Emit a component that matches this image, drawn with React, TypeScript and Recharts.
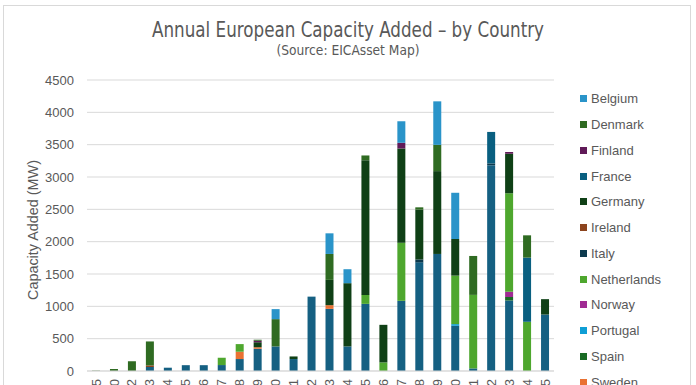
import React from "react";
import { BarChart, Bar, XAxis, YAxis, CartesianGrid } from "recharts";

const years = [
  "1995", "2000", "2002", "2003", "2004", "2005", "2006", "2007", "2008", "2009",
  "2010", "2011", "2012", "2013", "2014", "2015", "2016", "2017", "2018", "2019",
  "2020", "2021", "2022", "2023", "2024", "2025",
];

// MW added per year
const unitedKingdom = [0, 0, 0, 62, 51, 90, 90, 92, 185, 344, 380, 185, 1150, 961, 380, 1038, 0, 1085, 1680, 1810, 699, 40, 3183, 1089, 0, 873];
const sweden = [0, 0, 0, 0, 0, 0, 0, 0, 113, 25, 0, 0, 0, 57, 0, 0, 0, 0, 0, 0, 0, 0, 0, 0, 0, 0];
const spain = [0, 0, 0, 0, 0, 0, 0, 0, 0, 0, 0, 0, 0, 0, 0, 0, 0, 0, 0, 0, 0, 0, 0, 55, 0, 0];
const portugal = [0, 0, 0, 0, 0, 0, 0, 0, 0, 0, 0, 0, 0, 0, 0, 0, 0, 0, 0, 0, 26, 0, 0, 0, 0, 0];
const norway = [0, 0, 0, 0, 0, 0, 0, 0, 0, 0, 0, 0, 0, 0, 0, 0, 0, 0, 0, 0, 0, 0, 0, 82, 0, 0];
const netherlands = [0, 0, 0, 0, 0, 0, 0, 113, 118, 0, 0, 0, 0, 0, 0, 139, 133, 900, 0, 0, 750, 1137, 0, 1524, 761, 0];
const italy = [0, 0, 0, 0, 0, 0, 0, 0, 0, 0, 0, 0, 0, 0, 0, 0, 0, 0, 45, 0, 0, 0, 27, 0, 0, 0];
const ireland = [0, 0, 0, 25, 0, 0, 0, 0, 0, 0, 0, 0, 0, 0, 0, 0, 0, 0, 0, 0, 0, 0, 0, 0, 0, 0];
const germany = [0, 0, 0, 0, 0, 0, 0, 0, 0, 75, 0, 40, 0, 391, 978, 2083, 581, 1456, 770, 1281, 566, 0, 0, 611, 0, 238];
const france = [0, 0, 0, 0, 0, 0, 0, 0, 0, 0, 0, 0, 0, 0, 0, 0, 0, 0, 0, 0, 0, 0, 487, 0, 992, 0];
const finland = [0, 0, 0, 0, 0, 0, 0, 0, 0, 25, 0, 0, 0, 0, 0, 0, 0, 88, 0, 0, 0, 0, 0, 26, 0, 0];
const denmark = [5, 31, 149, 370, 0, 0, 0, 0, 0, 15, 422, 0, 0, 401, 0, 73, 0, 0, 36, 406, 0, 602, 0, 0, 345, 0];
const belgium = [0, 0, 0, 0, 0, 0, 0, 0, 0, 0, 155, 0, 0, 319, 216, 0, 0, 333, 0, 673, 715, 0, 0, 0, 0, 0];

const yTicks = [0, 500, 1000, 1500, 2000, 2500, 3000, 3500, 4000, 4500];

// stack order, bottom first
const series = [
  { name: "United Kingdom", values: unitedKingdom, color: "#156082" },
  { name: "Sweden", values: sweden, color: "#E97132" },
  { name: "Spain", values: spain, color: "#196B24" },
  { name: "Portugal", values: portugal, color: "#0F9ED5" },
  { name: "Norway", values: norway, color: "#A02B93" },
  { name: "Netherlands", values: netherlands, color: "#4EA72E" },
  { name: "Italy", values: italy, color: "#0D3A4E" },
  { name: "Ireland", values: ireland, color: "#8C441E" },
  { name: "Germany", values: germany, color: "#0F4016" },
  { name: "France", values: france, color: "#095F80" },
  { name: "Finland", values: finland, color: "#601A58" },
  { name: "Denmark", values: denmark, color: "#2F6B22" },
  { name: "Belgium", values: belgium, color: "#2A94C9" },
];

const data = years.map((year, i) => {
  const row: Record<string, string | number> = { year };
  series.forEach((s) => {
    row[s.name] = s.values[i];
  });
  return row;
});

const textColor = "#595959";
const font = "'Liberation Sans', Roboto, sans-serif";

function YearTick(props: any) {
  const { x, y, payload } = props;
  return (
    <g transform={`translate(${x},${y}) rotate(-90)`}>
      <text x={0} y={0} dy="0.35em" textAnchor="end" fill={textColor} fontSize={13} fontFamily={font}>
        {payload.value}
      </text>
    </g>
  );
}

function LegendList() {
  return (
    <div style={{ position: "absolute", left: 580, top: 86, fontFamily: font, fontSize: 13, color: textColor }}>
      {[...series].reverse().map((s) => (
        <div key={s.name} style={{ display: "flex", alignItems: "center", height: 25.75 }}>
          <span style={{ width: 7, height: 7, background: s.color, marginRight: 4, display: "inline-block" }} />
          <span>{s.name}</span>
        </div>
      ))}
    </div>
  );
}

export default function App() {
  return (
    <div style={{ position: "absolute", left: 0, top: 0, width: 696, height: 430, background: "#fff" }}>
      <div
        style={{
          position: "absolute", left: 3, top: 5, width: 688, height: 420,
          border: "1px solid #d9d9d9", boxSizing: "border-box",
        }}
      />
      <BarChart
        width={696}
        height={430}
        data={data}
        margin={{ top: 80, right: 142, left: 0, bottom: 19 }}
        barSize={8}
      >
        <CartesianGrid vertical={false} stroke="#d9d9d9" />
        <XAxis
          dataKey="year"
          interval={0}
          height={40}
          tick={<YearTick />}
          tickLine={false}
          axisLine={{ stroke: "#d9d9d9" }}
        />
        <YAxis
          domain={[0, 4500]}
          ticks={yTicks}
          width={87}
          axisLine={false}
          tickLine={false}
          tickSize={0}
          tickMargin={13}
          tick={{ fill: textColor, fontSize: 13, fontFamily: font }}
        />
        {series.map((s) => (
          <Bar key={s.name} dataKey={s.name} stackId="a" fill={s.color} isAnimationActive={false} />
        ))}
      </BarChart>
      <LegendList />
      <svg width={696} height={430} style={{ position: "absolute", left: 0, top: 0, pointerEvents: "none" }}>
        <text
          x={348}
          y={37}
          textAnchor="middle"
          fontSize={21}
          fill={textColor}
          fontFamily="'Liberation Sans Narrow', 'DejaVu Sans Condensed', sans-serif"
          textLength={392}
          lengthAdjust="spacingAndGlyphs"
        >
          Annual European Capacity Added – by Country
        </text>
        <text
          x={348}
          y={55}
          textAnchor="middle"
          fontSize={14}
          fill={textColor}
          fontFamily="'Liberation Sans Narrow', 'DejaVu Sans Condensed', sans-serif"
          textLength={143}
          lengthAdjust="spacingAndGlyphs"
        >
          (Source: EICAsset Map)
        </text>
        <text
          transform="translate(38,230) rotate(-90)"
          textAnchor="middle"
          fontSize={14}
          fill={textColor}
          fontFamily={font}
          textLength={140}
          lengthAdjust="spacingAndGlyphs"
        >
          Capacity Added (MW)
        </text>
      </svg>
    </div>
  );
}
